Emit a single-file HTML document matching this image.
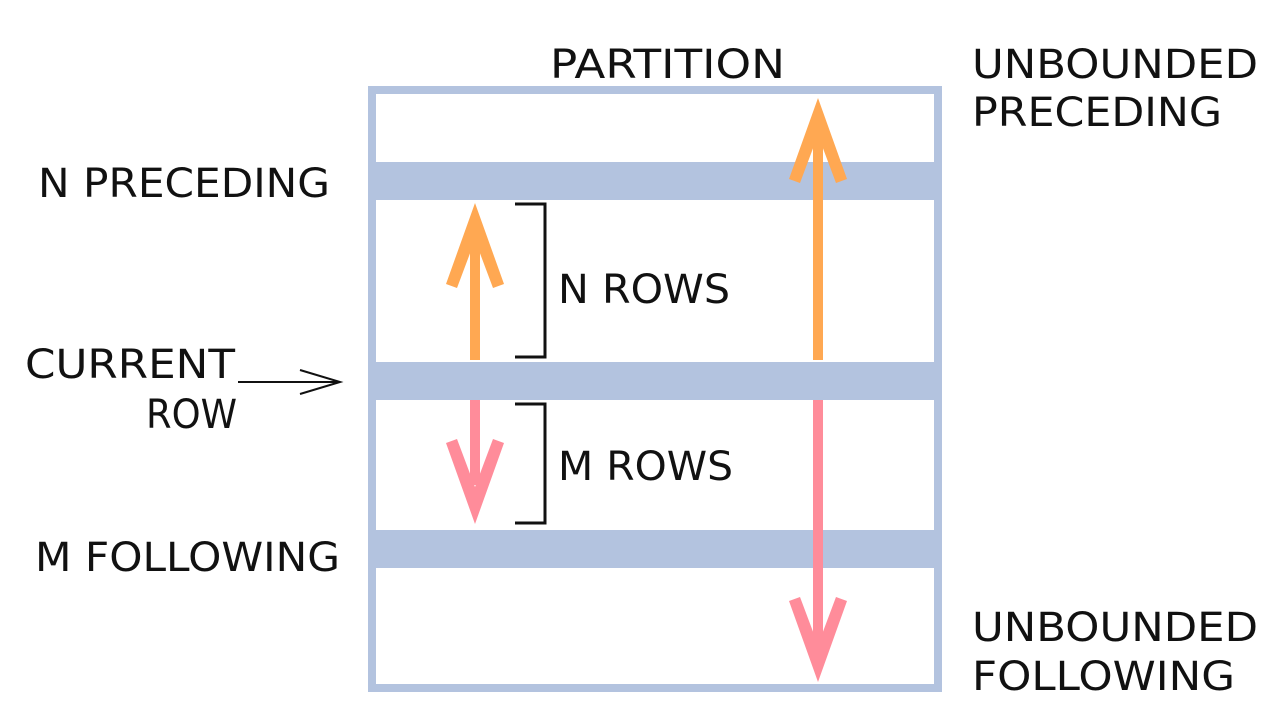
<!DOCTYPE html>
<html><head><style>
body{margin:0;background:#fff;}
svg text{font-family:"DejaVu Sans","Liberation Sans",sans-serif;font-size:40px;fill:#111;}
</style></head><body>
<svg width="1280" height="719" viewBox="0 0 1280 719" xmlns="http://www.w3.org/2000/svg">
<rect x="372" y="90" width="566" height="598" fill="none" stroke="#b3c3df" stroke-width="8"/>
<rect x="368" y="162" width="574" height="38" fill="#b3c3df"/>
<rect x="368" y="362" width="574" height="38" fill="#b3c3df"/>
<rect x="368" y="530" width="574" height="38" fill="#b3c3df"/>
<g fill="#ffa852">
<rect x="470" y="240" width="10" height="120"/>
<polygon points="475,203 446,284 457,288 475,240 493,288 504,284"/>
<rect x="813" y="135" width="10" height="225"/>
<polygon points="818,98 789,179 800,183 818,135 836,183 847,179"/>
</g>
<g fill="#ff8c9a">
<rect x="470" y="400" width="10" height="85"/>
<polygon points="475,524 446,443 457,439 475,487 493,439 504,443"/>
<rect x="813" y="400" width="10" height="245"/>
<polygon points="818,682 789,601 800,597 818,645 836,597 847,601"/>
</g>
<g fill="none" stroke="#111" stroke-width="3">
<polyline points="515,204 545,204 545,357 515,357"/>
<polyline points="515,404 545,404 545,523 515,523"/>
<line x1="238" y1="382" x2="340" y2="382" stroke-width="2"/>
<polyline points="300,370 340,382 300,394" stroke-width="2"/>
</g>
<text x="550" y="78" textLength="235" lengthAdjust="spacingAndGlyphs">PARTITION</text>
<text x="972" y="78" textLength="286" lengthAdjust="spacingAndGlyphs">UNBOUNDED</text>
<text x="972" y="126" textLength="250" lengthAdjust="spacingAndGlyphs">PRECEDING</text>
<text x="38" y="197" textLength="292" lengthAdjust="spacingAndGlyphs">N PRECEDING</text>
<text x="558" y="303" textLength="172" lengthAdjust="spacingAndGlyphs">N ROWS</text>
<text x="25" y="378" textLength="210" lengthAdjust="spacingAndGlyphs">CURRENT</text>
<text x="146" y="428" textLength="91" lengthAdjust="spacingAndGlyphs">ROW</text>
<text x="558" y="480" textLength="175" lengthAdjust="spacingAndGlyphs">M ROWS</text>
<text x="35" y="571" textLength="305" lengthAdjust="spacingAndGlyphs">M FOLLOWING</text>
<text x="972" y="641" textLength="286" lengthAdjust="spacingAndGlyphs">UNBOUNDED</text>
<text x="972" y="690" textLength="263" lengthAdjust="spacingAndGlyphs">FOLLOWING</text>
</svg>
</body></html>
